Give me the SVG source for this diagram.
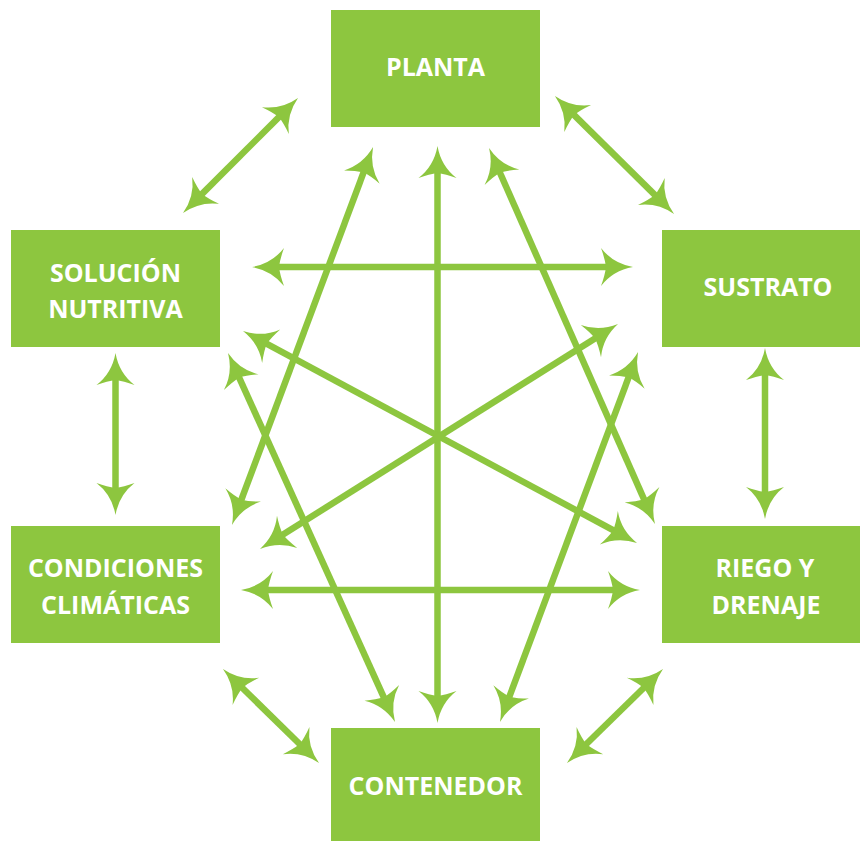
<svg xmlns="http://www.w3.org/2000/svg" width="860" height="841" viewBox="0 0 860 841">
<style>
.box{fill:#8DC63F}
.lbl{font-family:"Open Sans","Liberation Sans",sans-serif;font-weight:700;font-size:25px;fill:#FFFFFF;text-anchor:middle}
.con{stroke:#8DC63F;stroke-width:6.5;fill:none;marker-start:url(#ah);marker-end:url(#ah)}
</style>
<defs>
<marker id="ah" markerUnits="userSpaceOnUse" orient="auto-start-reverse" refX="0" refY="0" markerWidth="60" markerHeight="60" overflow="visible" viewBox="-30 -30 60 60">
<path d="M15,0 Q-5,3.5 -17,19 Q-13,8 -12,0 Q-13,-8 -17,-19 Q-5,-3.5 15,0 Z" fill="#8DC63F"/>
</marker>
</defs>
<rect width="860" height="841" fill="#FFFFFF"/>
<g id="connectors">
<line class="con" x1="287.4" y1="108.6" x2="193.6" y2="202.4"/>
<line class="con" x1="565.6" y1="106.6" x2="663.4" y2="203.4"/>
<line class="con" x1="115.5" y1="368" x2="115.5" y2="500"/>
<line class="con" x1="765" y1="363" x2="765" y2="504"/>
<line class="con" x1="233.7" y1="679.5" x2="308.3" y2="752.5"/>
<line class="con" x1="652.3" y1="679.5" x2="577.7" y2="752.5"/>
<line class="con" x1="437.5" y1="161" x2="437.5" y2="708"/>
<line class="con" x1="267" y1="267" x2="618" y2="267"/>
<line class="con" x1="256" y1="590" x2="625" y2="590"/>
<line class="con" x1="367.8" y1="161.1" x2="237.2" y2="510.9"/>
<line class="con" x1="495.1" y1="161.7" x2="648.9" y2="510.3"/>
<line class="con" x1="234.2" y1="366.7" x2="388.8" y2="708.3"/>
<line class="con" x1="632.8" y1="366.1" x2="505.2" y2="707.9"/>
<line class="con" x1="256.2" y1="338.1" x2="623.8" y2="535.9"/>
<line class="con" x1="605.3" y1="332" x2="272.7" y2="541"/>
</g>
<g id="planta">
<rect class="box" x="331" y="10" width="209" height="117"/>
<text class="lbl" x="435.5" y="76">PLANTA</text>
</g>
<g id="solucion">
<rect class="box" x="11" y="230" width="209" height="117"/>
<text class="lbl" x="115.5" y="281.7">SOLUCIÓN</text>
<text class="lbl" x="115.5" y="318.3">NUTRITIVA</text>
</g>
<g id="sustrato">
<rect class="box" x="662" y="230" width="198" height="117"/>
<text class="lbl" x="768" y="296">SUSTRATO</text>
</g>
<g id="condiciones">
<rect class="box" x="11" y="526" width="209" height="117"/>
<text class="lbl" x="115.5" y="577.3">CONDICIONES</text>
<text class="lbl" x="115.5" y="614">CLIMÁTICAS</text>
</g>
<g id="riego">
<rect class="box" x="662" y="526" width="198" height="117"/>
<text class="lbl" x="765" y="576.7">RIEGO Y</text>
<text class="lbl" x="766" y="614.3">DRENAJE</text>
</g>
<g id="contenedor">
<rect class="box" x="331" y="728" width="209" height="113"/>
<text class="lbl" x="435.5" y="795">CONTENEDOR</text>
</g>
</svg>
